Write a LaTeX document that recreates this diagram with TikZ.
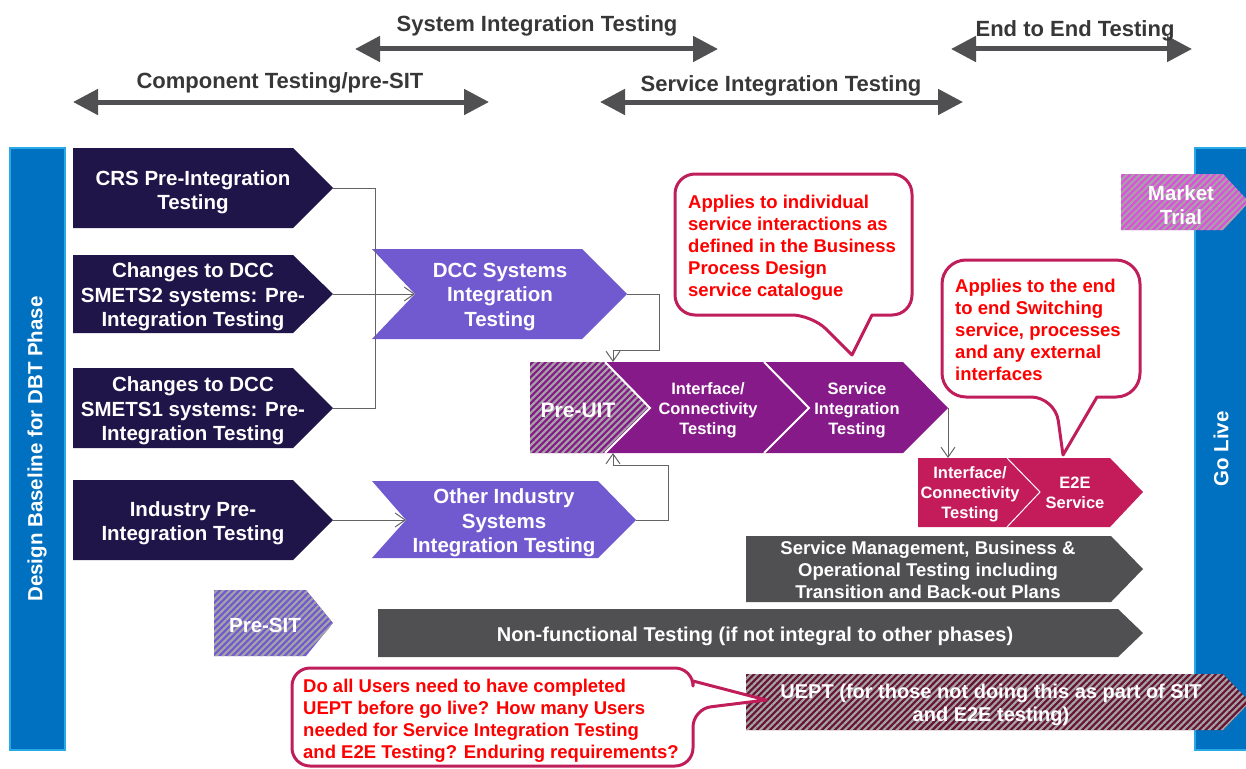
\documentclass[tikz,border=0pt]{standalone}
\usepackage{fontspec}
\setmainfont{Liberation Sans}
\usetikzlibrary{arrows.meta,patterns.meta}
\definecolor{navy}{RGB}{31,21,72}
\definecolor{lavender}{RGB}{113,90,208}
\definecolor{plum}{RGB}{134,26,137}
\definecolor{crimson}{RGB}{196,28,90}
\definecolor{slate}{RGB}{80,80,82}
\definecolor{bluebar}{RGB}{0,112,192}
\definecolor{bluebord}{RGB}{40,170,230}
\definecolor{callb}{RGB}{192,30,90}
\definecolor{hatchgray}{RGB}{165,165,165}
\definecolor{magentab}{RGB}{220,80,220}
\definecolor{maroonb}{RGB}{105,20,52}
\definecolor{arrowgray}{RGB}{80,80,82}
\definecolor{conngray}{RGB}{100,100,100}
\definecolor{hdrgray}{RGB}{55,55,55}
\definecolor{redtxt}{RGB}{255,0,0}
\tikzset{
  hdr/.style={text=hdrgray, inner sep=0pt, yshift=-3pt, font=\bfseries\fontsize{22}{26}\selectfont},
  wtxt/.style={text=white, inner sep=0pt, yshift=-2pt, align=center, font=\bfseries\fontsize{20.5}{24.5}\selectfont},
  stxt/.style={text=white, inner sep=0pt, yshift=-1pt, align=center, font=\bfseries\fontsize{16.5}{20}\selectfont},
  mtxt/.style={text=white, inner sep=0pt, yshift=-1pt, align=center, font=\bfseries\fontsize{18.5}{22}\selectfont},
  ctxt/.style={text=redtxt, inner sep=0pt, yshift=-2pt, align=left, anchor=west, font=\bfseries\fontsize{18.5}{22}\selectfont},
  span/.style={draw=arrowgray, line width=5pt, {Triangle[length=25pt,width=25pt]}-{Triangle[length=25pt,width=25pt]}},
  conn/.style={draw=conngray, line width=1pt},
  arr/.style={-{Straight Barb[length=10pt,width=14pt,line width=1pt]}},
  callout/.style={draw=callb, line width=3pt, fill=white, line join=round},
  hatch/.style 2 args={preaction={fill=#1}, pattern={Lines[angle=45,distance=4.6pt,line width=2.1pt]}, pattern color=#2},
  sep/.style={draw=white, line width=2pt},
  bar/.style={fill=bluebar, draw=bluebord, line width=1.2pt}
}
\begin{document}
\begin{tikzpicture}[x=1pt,y=-1pt]
\useasboundingbox (0,0) rectangle (1246,768);
\begin{scope}
\clip (0,0) rectangle (1246,768);
% blue bars
\path[bar] (10,148) rectangle (65,750);
\path[bar] (1195,148) rectangle (1260,750);
\node[wtxt, yshift=2pt, xshift=-1pt, rotate=90] (dbt) at (38,449) {Design Baseline for DBT Phase};
\node[wtxt, yshift=2pt, xshift=-1pt, rotate=90] (golive) at (1222,449) {Go Live};

% top spans
\coordinate (sitL) at (355,49); \coordinate (sitR) at (718,49);
\coordinate (ctL) at (73,102); \coordinate (ctR) at (489,102);
\coordinate (svL) at (600,102); \coordinate (svR) at (963,102);
\coordinate (eeL) at (951,49); \coordinate (eeR) at (1192,49);
\draw[span] (sitL) -- (sitR);
\draw[span] (ctL) -- (ctR);
\draw[span] (svL) -- (svR);
\draw[span] (eeL) -- (eeR);
\node[hdr] (sitlab) at (537,23) {System Integration Testing};
\node[hdr] (ctlab) at (280,80) {Component Testing/pre-SIT};
\node[hdr] (svlab) at (781,83) {Service Integration Testing};
\node[hdr] (eelab) at (1075,28) {End to End Testing};

% navy boxes
\fill[navy] (73,148) -- (293,148) -- (333,188) -- (293,228) -- (73,228) -- cycle;
\fill[navy] (73,255) -- (293,255) -- (333,294) -- (293,333) -- (73,333) -- cycle;
\fill[navy] (73,368) -- (293,368) -- (333,408) -- (293,448) -- (73,448) -- cycle;
\fill[navy] (73,480) -- (293,480) -- (333,520) -- (293,560) -- (73,560) -- cycle;
\node[wtxt] (crs) at (193,190) {CRS Pre-Integration\\Testing};
\node[wtxt] (sm2) at (193,295) {Changes to DCC\\SMETS2 systems: Pre-\\Integration Testing};
\node[wtxt] (sm1) at (193,409) {Changes to DCC\\SMETS1 systems: Pre-\\Integration Testing};
\node[wtxt] (ind) at (193,521) {Industry Pre-\\Integration Testing};
\coordinate (crsT) at (333,188);
\coordinate (sm2T) at (333,294);
\coordinate (sm1T) at (333,408);
\coordinate (indT) at (333,520);

% lavender chevrons
\fill[lavender] (372,249) -- (582,249) -- (627,294) -- (582,339) -- (372,339) -- (415,294) -- cycle;
\fill[lavender] (372,481) -- (598,481) -- (636,520) -- (598,558) -- (372,558) -- (406,520) -- cycle;
\node[wtxt] (dcc) at (500,295) {DCC Systems\\Integration\\Testing};
\node[wtxt] (oth) at (504,521) {Other Industry\\Systems\\Integration Testing};
\coordinate (dccN) at (415,294);
\coordinate (dccT) at (627,294);
\coordinate (othN) at (406,520);
\coordinate (othT) at (636,520);

% purple band with Pre-UIT
\fill[plum] (605,362) -- (903,362) -- (948,408) -- (903,453) -- (605,453) -- (650,408) -- cycle;
\path[hatch={plum}{hatchgray}] (530,362) -- (605,362) -- (650,408) -- (605,453) -- (530,453) -- cycle;
\draw[sep] (605,362) -- (650,408) -- (605,453);
\draw[sep] (764,362) -- (809,408) -- (764,453);
\node[wtxt, font=\bfseries\fontsize{21}{24}\selectfont] (preuit) at (578,408) {Pre-UIT};
\node[stxt] (ifc) at (708,409) {Interface/\\Connectivity\\Testing};
\node[stxt] (sit) at (857,409) {Service\\Integration\\Testing};
\coordinate (uitTop) at (613,362);
\coordinate (uitBot) at (613,453);
\coordinate (sitT) at (948,408);

% E2E band
\fill[crimson] (918,458) -- (1110,458) -- (1143,492) -- (1110,527) -- (918,527) -- cycle;
\draw[draw=white, line width=1pt] (1007,458) -- (1040,492) -- (1007,527);
\node[stxt] (e2eifc) at (970,493) {Interface/\\Connectivity\\Testing};
\node[stxt] (e2esvc) at (1075,492) {E2E\\Service};
\coordinate (e2eTop) at (948,458);

% connectors
\coordinate (j1) at (375,188);
\coordinate (j2) at (375,408);
\draw[conn] (crsT) -- (j1) -- (j2) -- (sm1T);
\draw[conn, arr] (sm2T) -- (dccN);
\draw[conn, arr] (indT) -- (othN);
\coordinate (j3) at (659,294);
\coordinate (j4) at (659,350);
\coordinate (j5) at (613,350);
\draw[conn, arr] (dccT) -- (j3) -- (j4) -- (j5) -- (uitTop);
\coordinate (j6) at (668,520);
\coordinate (j7) at (668,465);
\coordinate (j8) at (613,465);
\draw[conn, arr] (othT) -- (j6) -- (j7) -- (j8) -- (uitBot);
\draw[conn, arr] (sitT) -- (e2eTop);

% gray bars
\fill[slate] (746,536) -- (1111,536) -- (1143,569) -- (1111,602) -- (746,602) -- cycle;
\node[mtxt] (svm) at (928,569) {Service Management, Business \&\\Operational Testing including\\Transition and Back-out Plans};
\fill[slate] (378,609) -- (1118,609) -- (1143,633) -- (1118,657) -- (378,657) -- cycle;
\node[wtxt, font=\bfseries\fontsize{20}{24}\selectfont] (nft) at (755,634) {Non-functional Testing (if not integral to other phases)};

% Pre-SIT
\path[hatch={lavender}{hatchgray}] (214,590) -- (306,590) -- (333,623) -- (306,656) -- (214,656) -- cycle;
\node[wtxt] (presit) at (265,623) {Pre-SIT};

% Market trial
\path[hatch={magentab}{hatchgray}] (1121,174) -- (1223,174) -- (1249,202) -- (1223,230) -- (1121,230) -- cycle;
\node[wtxt] (mkt) at (1181,203) {Market\\Trial};

% UEPT
\path[hatch={maroonb}{hatchgray}] (746,674) -- (1223,674) -- (1250,702) -- (1223,730) -- (746,730) -- cycle;
\node[wtxt, font=\bfseries\fontsize{20}{23}\selectfont] (uept) at (991,703) {UEPT (for those not doing this as part of SIT\\and E2E testing)};

% callouts
\draw[callout] (790,174) [rounded corners=20pt] -- (675,174) -- (675,315) -- (812,315) [sharp corners] -- (852,355) -- (872,315) [rounded corners=20pt] -- (912,315) -- (912,174) -- cycle;
\node[ctxt] (c1) at (688,246) {Applies to individual\\service interactions as\\defined in the Business\\Process Design\\service catalogue};
\draw[callout] (1040,260) [rounded corners=24pt] -- (942,260) -- (942,397) -- (1055,397) [sharp corners] -- (1063,455) -- (1097,397) [rounded corners=24pt] -- (1140,397) -- (1140,260) -- cycle;
\node[ctxt, yshift=2pt] (c2) at (955,330) {Applies to the end\\to end Switching\\service, processes\\and any external\\interfaces};
\draw[callout] (490,668) [rounded corners=18pt] -- (292,668) -- (292,766) -- (693,766) -- (693,709) [sharp corners] -- (766,700) -- (693,681) [rounded corners=18pt] -- (693,668) -- cycle;
\node[ctxt] (c3) at (303,719) {Do all Users need to have completed\\UEPT before go live? How many Users\\needed for Service Integration Testing\\and E2E Testing? Enduring requirements?};
\end{scope}
\end{tikzpicture}
\end{document}
